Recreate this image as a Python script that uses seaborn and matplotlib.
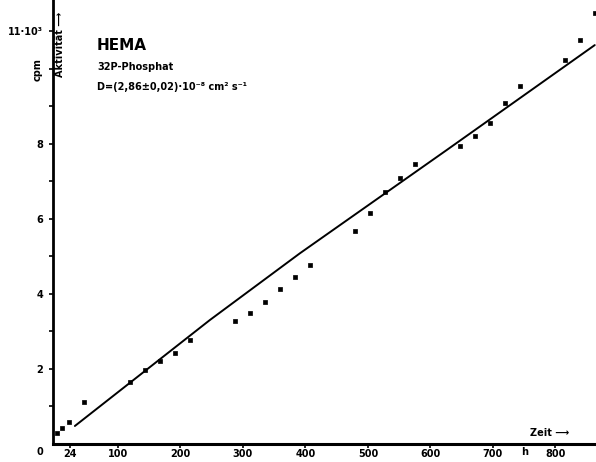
import numpy as np
import pandas as pd
import matplotlib
matplotlib.use("Agg")
import matplotlib.pyplot as plt
import seaborn as sns

# measured points (time in h, activity in cpm)
zeit_h = [3, 10, 21, 45, 120, 144, 168, 192, 216, 288, 312, 336, 360, 384, 408,
          480, 504, 528, 552, 576, 648, 672, 696, 720, 744, 816, 840, 864]
aktivitaet = [290, 405, 580, 1100, 1650, 1950, 2190, 2410, 2760, 3270, 3490, 3770,
              4130, 4430, 4750, 5660, 6140, 6720, 7070, 7445, 7940, 8200, 8555,
              9090, 9530, 10230, 10760, 11470]

# drawn fit line
fit_h = [31, 247, 391, 626, 863]
fit_cpm = [467, 3293, 5072, 7827, 10627]

x_ticks = [24, 100, 200, 300, 400, 500, 600, 700, 800]
y_ticks = list(range(1000, 12000, 1000))
y_labels = {2000: "2", 4000: "4", 6000: "6", 8000: "8", 11000: "11·10³"}

df = pd.DataFrame({"t": zeit_h, "cpm": aktivitaet})
fit = pd.DataFrame({"t": fit_h, "cpm": fit_cpm})

sns.set_style("ticks")
plt.rcParams['font.family'] = ['DejaVu Sans']
plt.rcParams['font.weight'] = 'bold'
plt.rcParams['text.color'] = 'black'
plt.rcParams['axes.edgecolor'] = 'black'
plt.rcParams['xtick.color'] = 'black'
plt.rcParams['ytick.color'] = 'black'

fig = plt.figure(figsize=(5.96, 4.62), dpi=100)
ax = fig.add_axes([53 / 596, 18.5 / 462, 543 / 596, 443.5 / 462])

sns.lineplot(data=fit, x="t", y="cpm", ax=ax, color="black", linewidth=1.4)
sns.scatterplot(data=df, x="t", y="cpm", ax=ax, color="black", marker="s",
                s=10, edgecolor="black", linewidth=0.5)

ax.set_xlim(-4, 865)
ax.set_ylim(0, 11830)
for s in ["top", "right"]:
    ax.spines[s].set_visible(False)
ax.spines["left"].set_linewidth(2)
ax.spines["bottom"].set_linewidth(2.2)

ax.set_xticks(x_ticks)
ax.set_xticklabels([str(v) for v in x_ticks], fontsize=7, fontweight="bold")
ax.set_yticks(y_ticks)
ax.set_yticklabels([y_labels.get(v, "") for v in y_ticks], fontsize=7, fontweight="bold")
ax.tick_params(axis="x", length=3, width=1.2, pad=1)
ax.tick_params(axis="y", length=3, width=1.2, pad=4)
ax.set_xlabel("")
ax.set_ylabel("")

# extra text from the original figure
fig.text(40 / 596, 1 - 452 / 462, "0", ha="center", va="center", fontsize=7, fontweight="bold")
fig.text(525 / 596, 1 - 452 / 462, "h", ha="center", va="center", fontsize=7, fontweight="bold")
fig.text(550 / 596, 1 - 433 / 462, "Zeit ⟶", ha="center", va="center", fontsize=7, fontweight="bold")
fig.text(38 / 596, 1 - 70 / 462, "cpm", rotation=90, ha="center", va="center", fontsize=7, fontweight="bold")
fig.text(60 / 596, 1 - 44 / 462, "Aktivität ⟶", rotation=90, ha="center", va="center", fontsize=7, fontweight="bold")
fig.text(97 / 596, 1 - 45 / 462, "HEMA", ha="left", va="center", fontsize=11, fontweight="bold")
fig.text(97 / 596, 1 - 67 / 462, "32P-Phosphat", ha="left", va="center", fontsize=7, fontweight="bold")
fig.text(97 / 596, 1 - 87 / 462, "D=(2,86±0,02)·10⁻⁸ cm² s⁻¹", ha="left", va="center",
         fontsize=7, fontweight="bold")

fig.savefig("out.png", dpi=100, facecolor="white")
